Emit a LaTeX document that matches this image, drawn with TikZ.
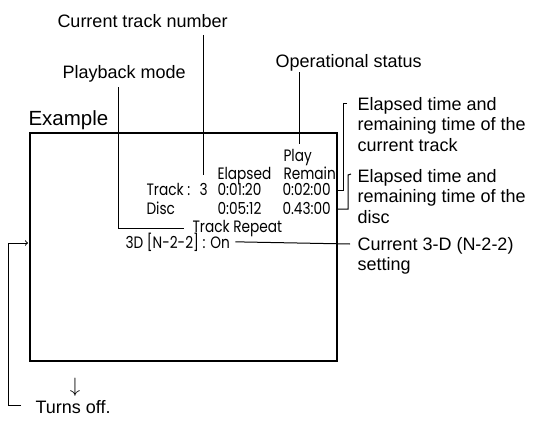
\documentclass[tikz,border=0pt]{standalone}
\usepackage{fontspec}
\setmainfont{Liberation Sans}
\newfontfamily\lcdfont[FakeStretch=0.83]{Poppins}
\usetikzlibrary{calc}

\begin{document}
\begin{tikzpicture}[x=1pt, y=-1pt, line width=1pt,
  lbl/.style={font=\fontsize{18}{20.5}\selectfont, inner sep=0pt, align=left, anchor=base west},
  lcd/.style={font=\lcdfont\fontsize{16.5}{18}\selectfont, inner sep=0pt, anchor=base west}]
  \useasboundingbox (0,0) rectangle (537,420);

  % screen frame
  \coordinate (TL) at (30,133);
  \coordinate (BR) at (337,361);
  \draw[line width=1.4pt] (TL) rectangle (BR);

  % what the screen shows
  \node[lcd] (play) at (283,161) {Play};
  \node[lcd] (ela)  at (217,179) {Elapsed};
  \node[lcd] (rem)  at (283,179) {Remain};
  \node[lcd] (trk)  at (146,195) {Track :};
  \node[lcd] (num)  at (199,195) {3};
  \node[lcd] (trkE) at (217,195) {0:01:20};
  \node[lcd] (trkR) at (282,195) {0:02:00};
  \node[lcd] (dsc)  at (146,214) {Disc};
  \node[lcd] (dscE) at (217,214) {0:05:12};
  \node[lcd] (dscR) at (282,214) {0.43:00};
  \node[lcd] (trep) at (192,232) {Track Repeat};
  \node[lcd] (td)   at (125,248) {3D [N-2-2] : On};

  % labels (base = last line)
  \node[lbl] (ctn) at (57,28)  {Current track number};
  \node[lbl] (pbm) at (62,78)  {Playback mode};
  \node[lbl] (ops) at (275,67) {Operational status};
  \node[lbl, font=\fontsize{20.5}{23}\selectfont] (ex) at (28,125) {Example};
  \node[lbl] (etc) at (357,151) {Elapsed time and\\remaining time of the\\current track};
  \node[lbl] (etd) at (357,223) {Elapsed time and\\remaining time of the\\disc};
  \node[lbl] (c3d) at (357,270.5) {Current 3-D (N-2-2)\\setting};
  \node[lbl] (off) at (35,413) {Turns off.};
  \node[inner sep=0pt, font=\fontsize{20}{22}\selectfont] (down) at (75,387) {$\downarrow$};

  % leader lines
  \coordinate (ctnA) at (203,35);
  \coordinate (pbmA) at (118,87);
  \coordinate (opsA) at (299,72);
  \coordinate (b1) at (347,103);
  \coordinate (b2) at (351,174);
  \coordinate (c3dA) at (350,244);
  \coordinate (offA) at (21,405);
  \coordinate (offB) at (8,243);

  \draw[shorten >=7pt] (ctnA) -- (ctnA |- num.north);
  \draw (pbmA) |- ([xshift=-8pt]trep.west);
  \draw[shorten >=4pt] (opsA) -- (opsA |- play.north);
  \draw (b1) -| ++(-4,87) -- (BR |- 0,190);
  \draw (b2) -- ++(-3,1) -- ++(0,34) -- (BR |- 0,209);
  \draw ([xshift=5pt]td.east) -- (c3dA);
  \draw[->, shorten >=2pt] (offA) -| (offB) -- (TL |- offB);
\end{tikzpicture}
\end{document}
